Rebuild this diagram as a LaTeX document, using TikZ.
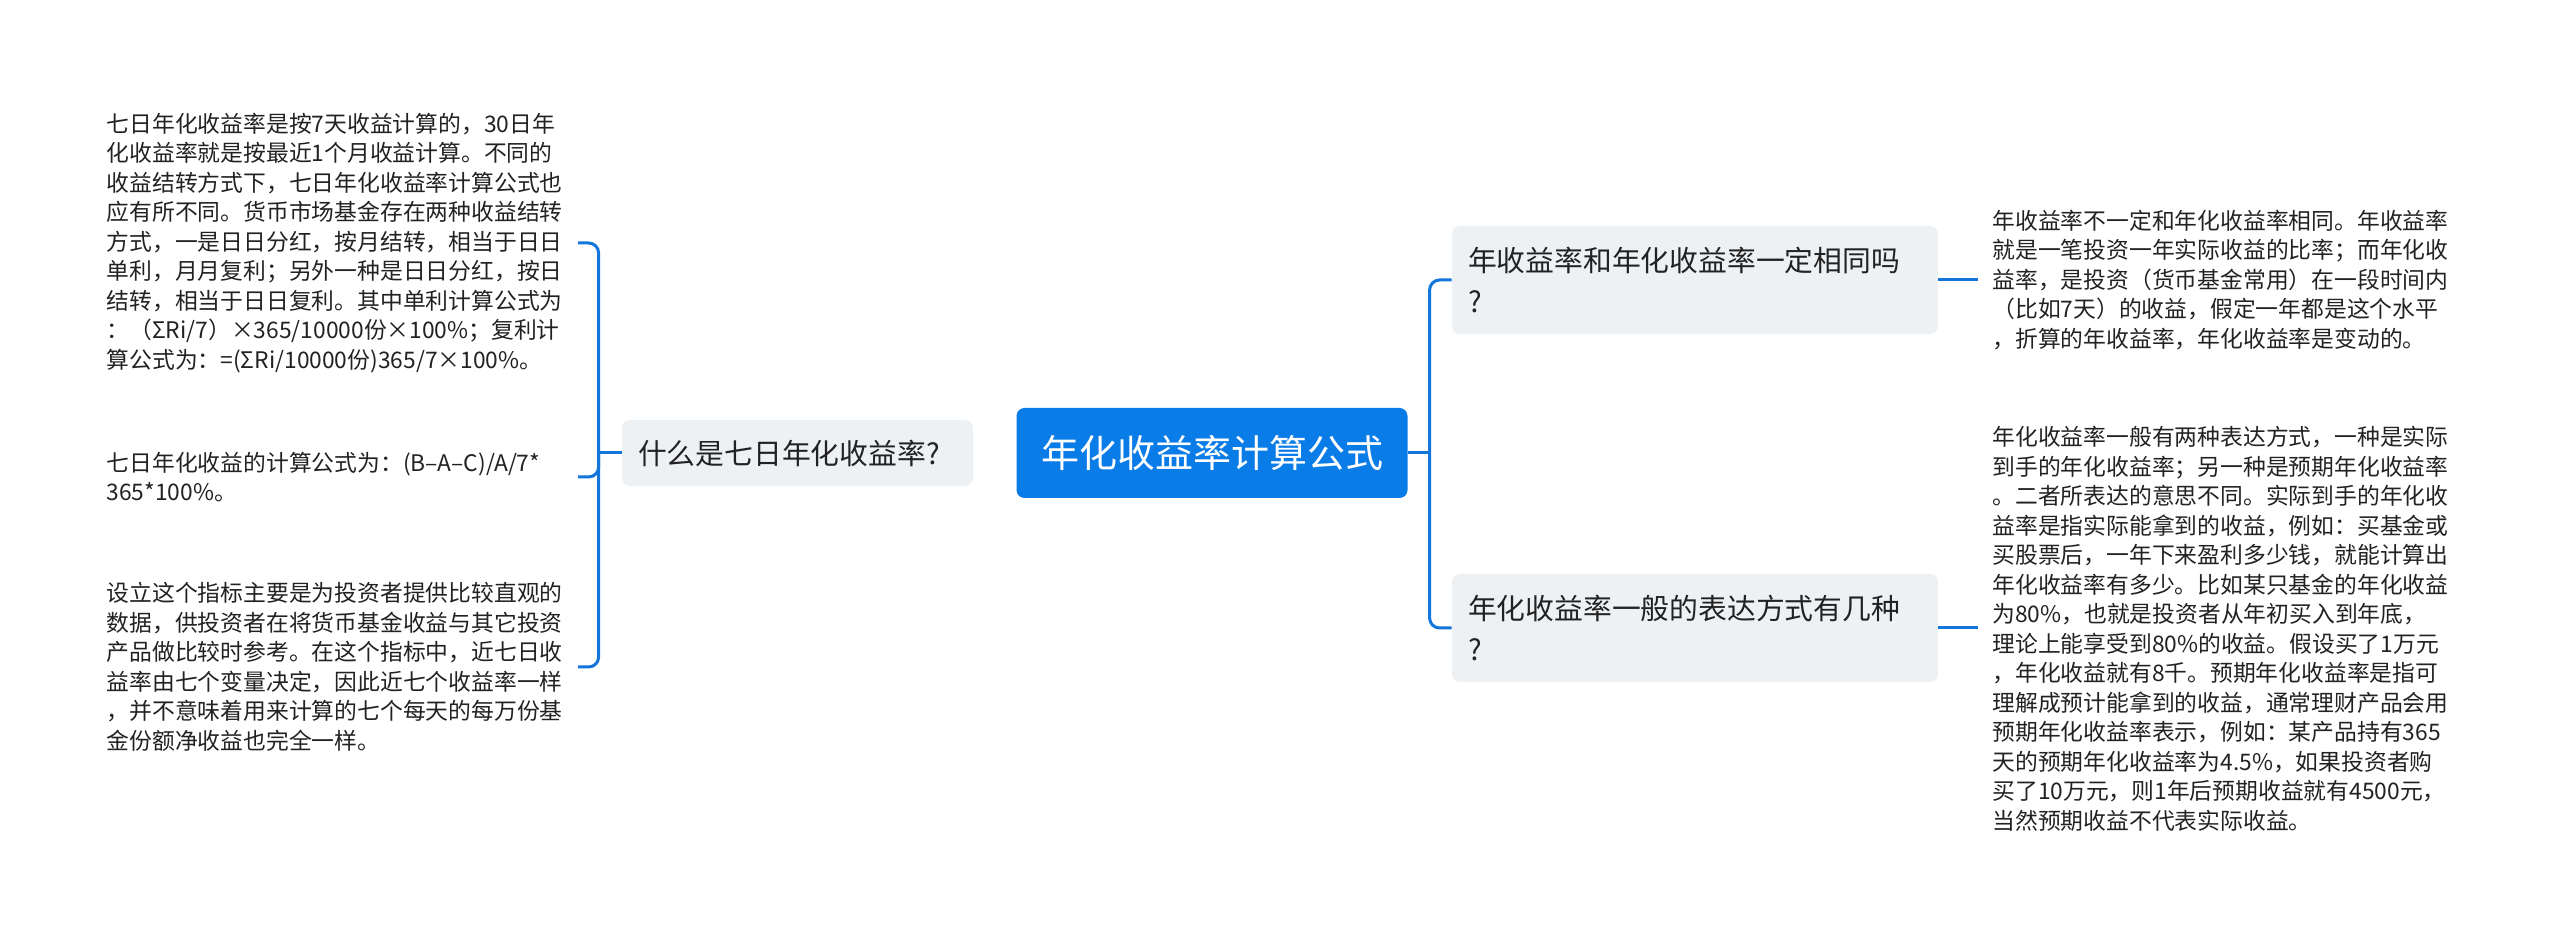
\documentclass[tikz,border=0pt]{standalone}
\usepackage{fontspec}
\setmainfont{Noto Sans CJK SC}
\definecolor{mapblue}{RGB}{10,124,232}
\definecolor{linkblue}{RGB}{18,118,218}
\definecolor{topicgray}{RGB}{238,241,244}
\definecolor{inkgray}{RGB}{34,34,34}
\begin{document}
\begin{tikzpicture}[x=0.5pt, y=-0.5pt,
  root/.style={fill=mapblue, rounded corners=4pt, text=white, align=center,
    minimum width=195.5pt, minimum height=45pt, font=\fontsize{19}{23}\selectfont},
  topic/.style={fill=topicgray, rounded corners=4pt, text=inkgray, align=left,
    inner xsep=8pt, font=\fontsize{14.4}{20.5}\selectfont},
  leaf/.style={text=inkgray, align=left, text width=228.5pt, inner xsep=7pt,
    inner ysep=0pt, font=\fontsize{11.4}{14.75}\selectfont},
  link/.style={draw=linkblue, line width=1.5pt, rounded corners=5pt}]
  \useasboundingbox (0,0) rectangle (2560,945);
  \fill[white] (0,0) rectangle (2560,945);

  \node[root] (root) at (1212,453) {年化收益率计算公式};

  \node[topic, text width=159.5pt, minimum height=33pt] (lq) at (797.5,453)
    {什么是七日年化收益率?};
  \node[topic, text width=227pt, minimum height=54pt] (rq1) at (1695,280)
    {年收益率和年化收益率一定相同吗\\?};
  \node[topic, text width=227pt, minimum height=54pt] (rq2) at (1695,628)
    {年化收益率一般的表达方式有几种\\?};

  \node[leaf, anchor=east] (lt1) at (578,243)
    {七日年化收益率是按7天收益计算的，30日年\\
     化收益率就是按最近1个月收益计算。不同的\\
     收益结转方式下，七日年化收益率计算公式也\\
     应有所不同。货币市场基金存在两种收益结转\\
     方式，一是日日分红，按月结转，相当于日日\\
     单利，月月复利；另外一种是日日分红，按日\\
     结转，相当于日日复利。其中单利计算公式为\\
     ：（ΣRi/7）×365/10000份×100\%；复利计\\
     算公式为：=(ΣRi/10000份)365/7×100\%。};
  \node[leaf, anchor=east] (lt2) at (578,477)
    {七日年化收益的计算公式为：(B–A–C)/A/7*\\
     365*100\%。};
  \node[leaf, anchor=east] (lt3) at (578,667)
    {设立这个指标主要是为投资者提供比较直观的\\
     数据，供投资者在将货币基金收益与其它投资\\
     产品做比较时参考。在这个指标中，近七日收\\
     益率由七个变量决定，因此近七个收益率一样\\
     ，并不意味着用来计算的七个每天的每万份基\\
     金份额净收益也完全一样。};

  \node[leaf, anchor=west] (rt1) at (1978,280)
    {年收益率不一定和年化收益率相同。年收益率\\
     就是一笔投资一年实际收益的比率；而年化收\\
     益率，是投资（货币基金常用）在一段时间内\\
     （比如7天）的收益，假定一年都是这个水平\\
     ，折算的年收益率，年化收益率是变动的。};
  \node[leaf, anchor=west] (rt2) at (1978,629)
    {年化收益率一般有两种表达方式，一种是实际\\
     到手的年化收益率；另一种是预期年化收益率\\
     。二者所表达的意思不同。实际到手的年化收\\
     益率是指实际能拿到的收益，例如：买基金或\\
     买股票后，一年下来盈利多少钱，就能计算出\\
     年化收益率有多少。比如某只基金的年化收益\\
     为80\%，也就是投资者从年初买入到年底，\\
     理论上能享受到80\%的收益。假设买了1万元\\
     ，年化收益就有8千。预期年化收益率是指可\\
     理解成预计能拿到的收益，通常理财产品会用\\
     预期年化收益率表示，例如：某产品持有365\\
     天的预期年化收益率为4.5\%，如果投资者购\\
     买了10万元，则1年后预期收益就有4500元，\\
     当然预期收益不代表实际收益。};

  \coordinate (rj) at ([xshift=-11pt]root.east -| rq1.west);
  \coordinate (lj) at ([xshift=-11.5pt]lq.west);

  \draw[link] (rq1.west) -| (rj |- rq2.west) -- (rq2.west);
  \draw[link] (root.east) -- (rj);
  \draw[link] (lt1.east) -| (lj |- lt3.east) -- (lt3.east);
  \draw[link] (lq.west) -- (lj);
  \draw[link] (lt2.east) -| (lj);
  \draw[link] (rq1.east) -- (rq1.east -| rt1.west);
  \draw[link] (rq2.east) -- (rq2.east -| rt2.west);
\end{tikzpicture}
\end{document}
